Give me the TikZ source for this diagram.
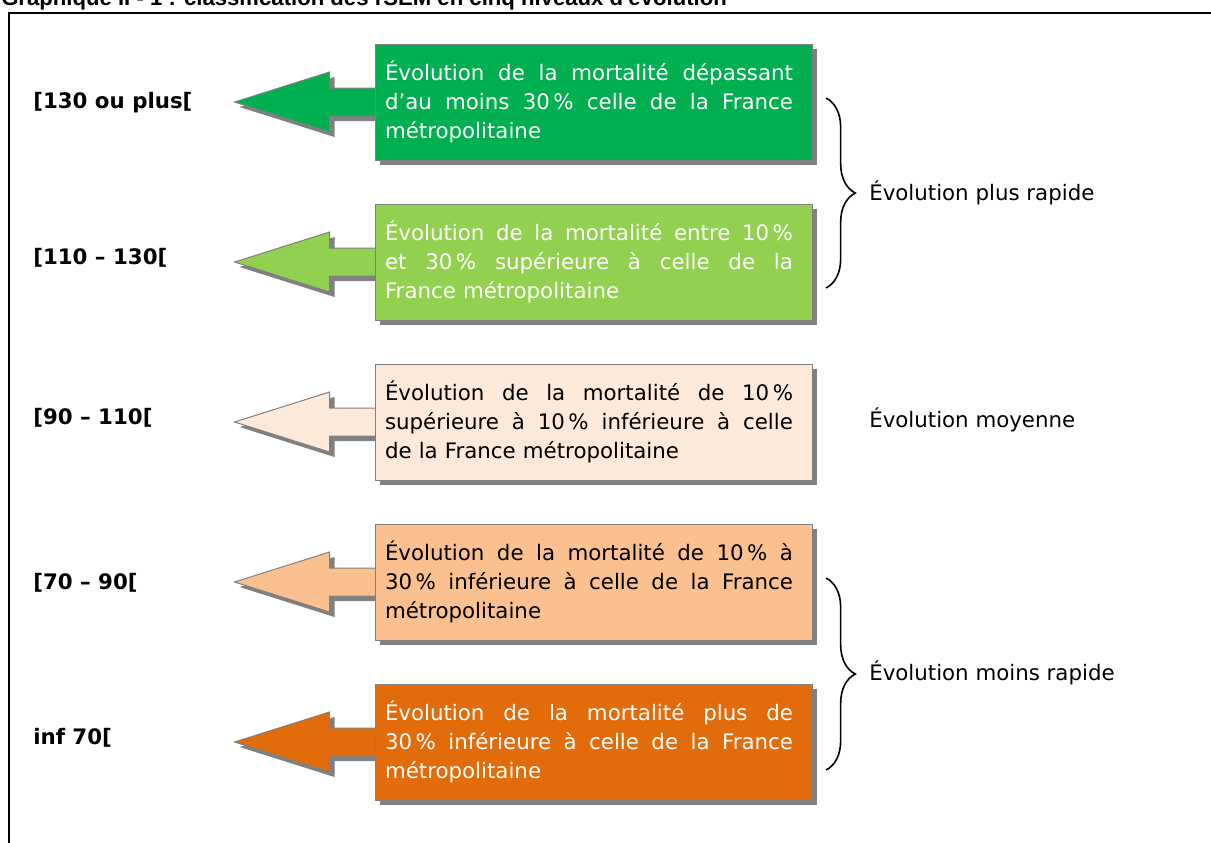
\documentclass[tikz,border=0pt]{standalone}
\usepackage{fontspec}
\setmainfont{DejaVu Sans}
\newfontfamily\titrefont{Liberation Sans}
\usetikzlibrary{shadows,backgrounds,calc,decorations.pathreplacing}

\definecolor{vertfonce}{RGB}{0,176,80}
\definecolor{vertclair}{RGB}{146,208,80}
\definecolor{peche}{RGB}{253,233,217}
\definecolor{orangeclair}{RGB}{250,192,144}
\definecolor{orangefonce}{RGB}{226,107,10}
\definecolor{grisbord}{RGB}{128,128,128}

\newcommand{\corps}{\fontsize{16}{21.75}\selectfont}
% ligne justifiee (les espaces s'etirent)
\newcommand{\jligne}[1]{\makebox[306pt][s]{\spaceskip=.3333em plus 1fil\relax #1}\\}

\begin{document}
\begin{tikzpicture}[x=0.75pt,y=0.75pt,yscale=-1,xscale=1,
  ombre/.style={drop shadow={shadow xshift=3.75pt, shadow yshift=-3.75pt, opacity=1, fill=grisbord}},
  niveau/.style={draw=grisbord, line width=0.75pt, ombre, minimum width=327.75pt, minimum height=87pt, text width=312.75pt, inner xsep=7.5pt, inner ysep=0pt, align=left, font=\corps},
  fleche/.style={draw=grisbord, line width=0.75pt, ombre},
  borne/.style={anchor=west, inner sep=0pt, font=\corps\bfseries},
  groupe/.style={anchor=west, inner sep=0pt, font=\corps},
  accolade/.style={decorate, decoration={brace, amplitude=22pt}, line width=1.2pt}]
\useasboundingbox (0,0) rectangle (1211,843);

% titre (coupe en haut) et cadre
\node[anchor=base west, inner sep=0pt, font=\titrefont\fontsize{16.6}{19}\selectfont\bfseries] (titre) at (1,5.5) {Graphique II - 1 : classification des rSEM en cinq niveaux d'évolution};
\draw [line width=1.5pt] (9,850) -- (9,13) -- (1215,13) ;

% Boites
\node[niveau, fill=vertfonce, text=white] (b1) at (593.5,102) {\jligne{Évolution de la mortalité dépassant}\jligne{d’au moins 30\,\% celle de la France}métropolitaine};
\node[niveau, fill=vertclair, text=white] (b2) at (593.5,262) {\jligne{Évolution de la mortalité entre 10\,\%}\jligne{et 30\,\% supérieure à celle de la}France métropolitaine};
\node[niveau, fill=peche, text=black] (b3) at (593.5,422) {\jligne{Évolution de la mortalité de 10\,\%}\jligne{supérieure à 10\,\% inférieure à celle}de la France métropolitaine};
\node[niveau, fill=orangeclair, text=black] (b4) at (593.5,582) {\jligne{Évolution de la mortalité de 10\,\% à}\jligne{30\,\% inférieure à celle de la France}métropolitaine};
\node[niveau, fill=orangefonce, text=white] (b5) at (593.5,742) {\jligne{Évolution de la mortalité plus de}\jligne{30\,\% inférieure à celle de la France}métropolitaine};

% Fleches
\begin{scope}[on background layer]
\foreach \n/\c in {b1/vertfonce,b2/vertclair,b3/peche,b4/orangeclair,b5/orangefonce}
  \draw [fleche, fill=\c] ($(\n.west)+(6,-14)$) -- ++(-51,0) -- ++(0,-16) -- ++(-95,30) -- ++(95,30) -- ++(0,-16) -- ++(51,0) ;
\end{scope}

% Bornes
\node[borne] (r1) at (33,103) {[130 ou plus[};
\node[borne] (r2) at (33,258) {[110 – 130[};
\node[borne] (r3) at (33,418) {[90 – 110[};
\node[borne] (r4) at (33,583) {[70 – 90[};
\node[borne] (r5) at (33,738) {inf 70[};

% Accolades
\coordinate (a1) at (826,98);
\coordinate (a2) at (826,288);
\coordinate (a3) at (826,578);
\coordinate (a4) at (826,770);
\draw [accolade] (a1) -- (a2) ;
\draw [accolade] (a3) -- (a4) ;

\node[groupe] (g1) at (869,193) {Évolution plus rapide};
\node[groupe] (g2) at (869,420) {Évolution moyenne};
\node[groupe] (g3) at (869,673) {Évolution moins rapide};

\end{tikzpicture}
\end{document}
